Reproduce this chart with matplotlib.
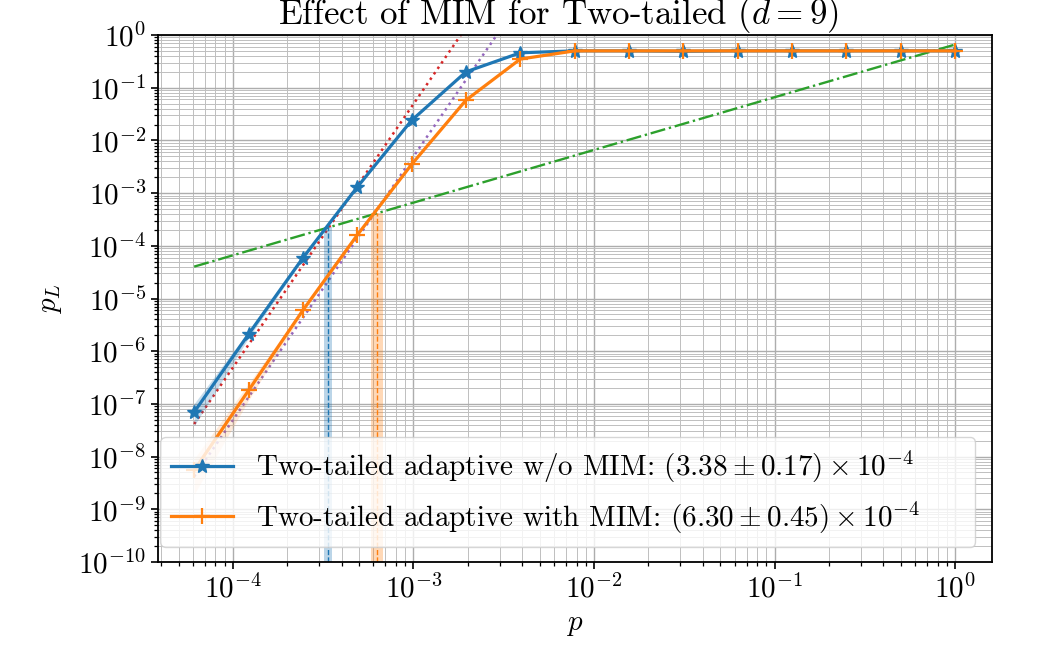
import numpy as np
import matplotlib
matplotlib.use("Agg")
import matplotlib.pyplot as plt
from matplotlib.ticker import LogLocator, NullFormatter

plt.rcParams['font.family'] = 'serif'
plt.rcParams['font.serif'] = ['cmr10']
plt.rcParams['mathtext.fontset'] = 'cm'
plt.rcParams['axes.formatter.use_mathtext'] = True
plt.rcParams['font.size'] = 21

# Physical error rates p = 2^-14 ... 2^0
p = [6.1035e-05, 1.2207e-04, 2.4414e-04, 4.8828e-04, 9.7656e-04,
     1.9531e-03, 3.9063e-03, 7.8125e-03, 1.5625e-02, 3.1250e-02,
     6.2500e-02, 1.2500e-01, 2.5000e-01, 5.0000e-01, 1.0]

# Logical error rates
pl_no_mim = [7.0e-8, 2.1e-6, 5.9e-5, 1.3e-3, 2.4e-2, 0.20, 0.46,
             0.50, 0.50, 0.49, 0.50, 0.50, 0.50, 0.50, 0.50]
pl_mim = [5.5e-9, 1.8e-7, 6.0e-6, 1.6e-4, 3.5e-3, 0.058, 0.35,
          0.50, 0.50, 0.50, 0.50, 0.50, 0.50, 0.50, 0.50]

# relative error of the estimates (shaded bands)
rel_no_mim = [0.45, 0.15, 0.06, 0.03, 0.02, 0.01, 0.01,
              0.01, 0.01, 0.01, 0.01, 0.01, 0.01, 0.01, 0.01]
rel_mim = [0.65, 0.35, 0.10, 0.04, 0.02, 0.01, 0.01,
           0.01, 0.01, 0.01, 0.01, 0.01, 0.01, 0.01, 0.01]

# power-law fits pL = A * p^k
fit_no_mim = (4.9e13, 5.0)
fit_mim = (4.95e12, 5.0)
n_fit = 8

# break-even line pL = c * p
breakeven_c = 0.66

# thresholds (mean, std)
th_no_mim = (3.38e-4, 0.17e-4)
th_mim = (6.30e-4, 0.45e-4)

p = np.array(p)
pl_no_mim = np.array(pl_no_mim)
pl_mim = np.array(pl_mim)
rel_no_mim = np.array(rel_no_mim)
rel_mim = np.array(rel_mim)

fig = plt.figure(figsize=(10.48, 6.46), dpi=100)
ax = fig.add_axes([0.1508, 0.130, 0.7958, 0.8158])

ymin = 1e-10

# break-even
ax.plot(p, breakeven_c * p, color='C2', ls='-.', lw=1.7, zorder=2)

# fits
pf = p[:n_fit]
ax.plot(pf, fit_no_mim[0] * pf ** fit_no_mim[1], color='C3', ls=':', lw=1.8, zorder=2)
ax.plot(pf, fit_mim[0] * pf ** fit_mim[1], color='C4', ls=':', lw=1.8, zorder=2)

# curves with bands
ax.fill_between(p, pl_no_mim * (1 - rel_no_mim), pl_no_mim * (1 + rel_no_mim),
                color='C0', alpha=0.25, lw=0, zorder=3)
ax.fill_between(p, pl_mim * (1 - rel_mim), pl_mim * (1 + rel_mim),
                color='C1', alpha=0.15, lw=0, zorder=3)
ax.plot(p, pl_no_mim, color='C0', marker='*', ms=10, lw=2.3, zorder=4,
        label=r'Two-tailed adaptive w/o MIM: $(3.38 \pm 0.17) \times 10^{-4}$')
ax.plot(p, pl_mim, color='C1', marker='+', ms=11, mew=1.6, lw=2.3, zorder=4,
        label=r'Two-tailed adaptive with MIM: $(6.30 \pm 0.45) \times 10^{-4}$')

# thresholds
for (th, err), col in [(th_no_mim, 'C0'), (th_mim, 'C1')]:
    ytop = breakeven_c * th
    ax.fill_betweenx([ymin, ytop], th - err, th + err, color=col, alpha=0.3, lw=0, zorder=2)
    ax.vlines(th, ymin, ytop, color=col, ls='--', lw=1, zorder=2)

ax.set_xscale('log')
ax.set_yscale('log')
ax.set_xlim(3.85e-5, 1.6)
ax.set_ylim(ymin, 1)

ax.yaxis.set_major_locator(LogLocator(base=10, numticks=20))
ax.yaxis.set_minor_locator(LogLocator(base=10, subs=np.arange(2, 10), numticks=100))
ax.yaxis.set_minor_formatter(NullFormatter())
ax.xaxis.set_minor_locator(LogLocator(base=10, subs=np.arange(2, 10), numticks=100))
ax.xaxis.set_minor_formatter(NullFormatter())

ax.grid(True, which='major', color='0.68', lw=1.0)
ax.grid(True, which='minor', color='0.75', lw=0.7)
ax.set_axisbelow(True)

ax.tick_params(which='major', length=5, width=1.2)
ax.tick_params(which='minor', length=3, width=0.9)
for s in ax.spines.values():
    s.set_linewidth(1.3)

ax.set_xlabel(r'$p$', labelpad=6)
ax.set_ylabel(r'$p_L$', labelpad=10)
ax.set_title(r'Effect of MIM for Two-tailed ($d=9$)', x=0.48, pad=3)

ax.legend(loc='lower left', bbox_to_anchor=(0.002, 0.028, 0.978, 0.2),
          mode='expand', borderaxespad=0,
          fontsize=21, framealpha=0.8, handlelength=2.1)

fig.savefig('out.png', dpi=100)
